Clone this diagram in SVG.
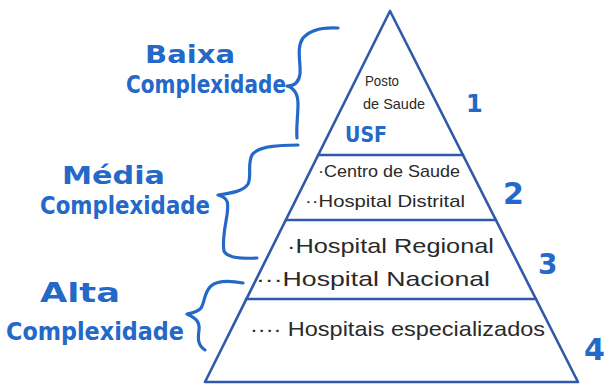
<svg xmlns="http://www.w3.org/2000/svg" width="615" height="385" viewBox="0 0 615 385">
<style>
.ln{fill:none;stroke:#2f5aaa;stroke-width:2.6;stroke-linecap:round;stroke-linejoin:round}
.br{fill:none;stroke:#2468c8;stroke-width:3.2;stroke-linecap:round;stroke-linejoin:round}
.bl{font-family:"DejaVu Sans",sans-serif;font-weight:bold;fill:#2468c8}
.tx{font-family:"Liberation Sans",sans-serif;fill:#2a2a2a}
</style>
<rect width="615" height="385" fill="#ffffff"/>
<g id="pyramid">
<path class="ln" d="M390,11 L205,382 L578,382 Z"/>
</g>
<g id="connectors">
<line class="ln" x1="318" y1="155" x2="463" y2="155"/>
<line class="ln" x1="286" y1="220" x2="496" y2="220"/>
<line class="ln" x1="246" y1="299" x2="536" y2="299"/>
<path class="br" d="M338,28 C322,27 310,30 303,38 C296,48 301,62 300,74 C299,82 294,86 287,86 C294,88 298,94 298,104 C298,116 296,128 297,138"/>
<path class="br" d="M298,145 C280,145 258,146 252,155 C247,165 252,176 248,184 C244,191 232,193 218,195 C230,198 228,205 227,215 C225,228 222,240 224,251 C227,258 240,259 257,258"/>
<path class="br" d="M243,283 C232,281 218,280 211,286 C204,292 205,302 201,308 C198,312 192,313 187,314 C196,318 200,322 199,330 C198,337 197,345 205,350"/>
</g>
<g id="baixa">
<text class="bl" x="145" y="63" font-size="24" textLength="90" lengthAdjust="spacingAndGlyphs">Baixa</text>
<text class="bl" x="126" y="93" font-size="24" textLength="160" lengthAdjust="spacingAndGlyphs">Complexidade</text>
</g>
<g id="media">
<text class="bl" x="62" y="184" font-size="24" textLength="103" lengthAdjust="spacingAndGlyphs">Média</text>
<text class="bl" x="40" y="214" font-size="24" textLength="170" lengthAdjust="spacingAndGlyphs">Complexidade</text>
</g>
<g id="alta">
<text class="bl" x="40" y="302" font-size="26" textLength="80" lengthAdjust="spacingAndGlyphs">Alta</text>
<text class="bl" x="6" y="340" font-size="24" textLength="178" lengthAdjust="spacingAndGlyphs">Complexidade</text>
</g>
<g id="level1">
<text class="tx" x="365" y="86" font-size="15" textLength="34" lengthAdjust="spacingAndGlyphs">Posto</text>
<text class="tx" x="363" y="109" font-size="15" textLength="62" lengthAdjust="spacingAndGlyphs">de Saude</text>
<text class="bl" x="345" y="142" font-size="22" textLength="42" lengthAdjust="spacingAndGlyphs">USF</text>
<text class="bl" x="466" y="112" font-size="24">1</text>
</g>
<g id="level2">
<text class="tx" x="318" y="177" font-size="17" textLength="142" lengthAdjust="spacingAndGlyphs">·Centro de Saude</text>
<text class="tx" x="305" y="207" font-size="17" textLength="160" lengthAdjust="spacingAndGlyphs">··Hospital Distrital</text>
<text class="bl" x="503" y="204" font-size="30">2</text>
</g>
<g id="level3">
<text class="tx" x="287" y="253" font-size="21" textLength="207" lengthAdjust="spacingAndGlyphs">·Hospital Regional</text>
<text class="tx" x="256" y="286" font-size="21" textLength="234" lengthAdjust="spacingAndGlyphs">···Hospital Nacional</text>
<text class="bl" x="538" y="274" font-size="28">3</text>
</g>
<g id="level4">
<text class="tx" x="250" y="336" font-size="21" textLength="295" lengthAdjust="spacingAndGlyphs">···· Hospitais especializados</text>
<text class="bl" x="584" y="360" font-size="30">4</text>
</g>
</svg>
